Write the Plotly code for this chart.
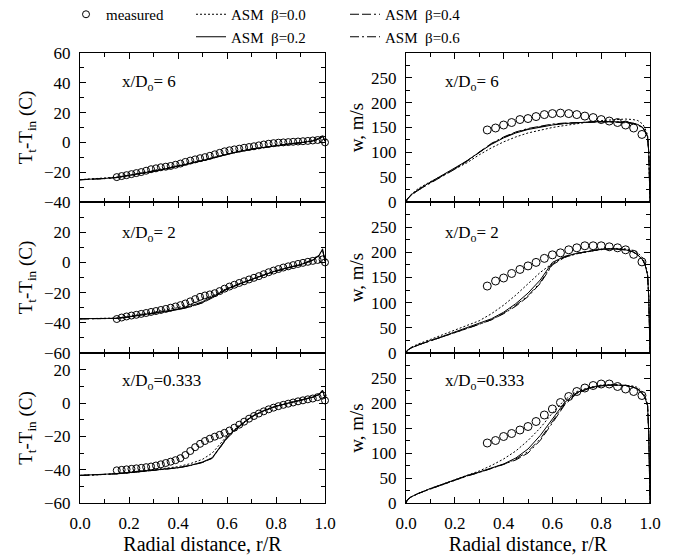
import plotly.graph_objects as go
from plotly.subplots import make_subplots

# ---------------- data ----------------
# Temperature panels: model radial grid
r_t_model = [0, 0.05, 0.1, 0.15, 0.2, 0.25, 0.3, 0.35, 0.4, 0.45, 0.5, 0.54,
             0.6, 0.65, 0.7, 0.75, 0.8, 0.85, 0.9, 0.95, 0.975, 0.99, 1.0]

# x/Do = 6 temperature
t6_b00 = [-25.0, -24.6, -24.0, -23.3, -22.0, -20.5, -19.0, -17.3, -15.6, -13.8, -11.8, -10.2,
          -7.6, -5.9, -4.4, -3.1, -2.0, -1.0, 0.0, 1.2, 2.8, 4.6, 1.0]
t6_b02 = [-25.0, -24.7, -24.2, -23.5, -22.2, -20.8, -19.3, -17.7, -16.0, -14.2, -12.2, -10.5,
          -7.8, -6.0, -4.5, -3.2, -2.1, -1.1, -0.2, 1.0, 2.5, 4.2, 1.0]
t6_b04 = [-25.1, -24.8, -24.3, -23.6, -22.3, -20.9, -19.4, -17.8, -16.1, -14.3, -12.3, -10.6,
          -7.9, -6.1, -4.6, -3.3, -2.2, -1.2, -0.3, 0.9, 2.4, 4.0, 1.0]
t6_b06 = [-25.1, -24.8, -24.3, -23.6, -22.3, -20.9, -19.4, -17.8, -16.1, -14.3, -12.3, -10.6,
          -7.9, -6.1, -4.6, -3.3, -2.2, -1.2, -0.3, 0.9, 2.4, 3.9, 1.0]

# x/Do = 2 temperature
t2_b00 = [-37.3, -37.2, -37.1, -36.9, -35.7, -34.4, -33.0, -31.6, -30.0, -27.8, -24.8, -22.0,
          -17.2, -14.0, -11.0, -8.1, -5.4, -3.2, -1.3, 1.8, 4.8, 9.0, 1.0]
t2_b02 = [-37.3, -37.2, -37.1, -37.0, -36.0, -34.8, -33.5, -32.3, -31.0, -29.0, -26.0, -22.8,
          -17.5, -14.2, -11.2, -8.3, -5.6, -3.4, -1.5, 1.5, 4.5, 8.5, 1.0]
t2_b04 = [-37.4, -37.3, -37.2, -37.1, -36.1, -35.0, -33.8, -32.6, -31.3, -29.5, -26.8, -23.5,
          -17.8, -14.4, -11.3, -8.4, -5.7, -3.5, -1.6, 1.4, 4.4, 8.3, 1.0]
t2_b06 = [-37.4, -37.3, -37.2, -37.1, -36.1, -35.0, -33.8, -32.6, -31.2, -29.4, -26.6, -23.3,
          -17.7, -14.3, -11.3, -8.4, -5.7, -3.5, -1.6, 1.4, 4.4, 8.3, 1.0]

# x/Do = 0.333 temperature
t0_b00 = [-43.4, -43.2, -42.9, -42.3, -41.6, -40.8, -40.0, -39.1, -38.2, -36.4, -33.8, -30.0,
          -19.8, -13.4, -8.0, -4.5, -1.8, 0.0, 1.6, 3.6, 5.4, 7.8, 3.0]
t0_b02 = [-43.4, -43.2, -43.0, -42.4, -41.8, -41.1, -40.4, -39.6, -38.8, -37.4, -35.4, -32.8,
          -20.5, -13.8, -8.2, -4.6, -1.9, -0.1, 1.5, 3.5, 5.2, 7.6, 3.0]
t0_b04 = [-43.5, -43.3, -43.1, -42.5, -41.9, -41.2, -40.5, -39.7, -38.9, -37.6, -35.7, -33.2,
          -21.2, -14.2, -8.4, -4.7, -2.0, -0.2, 1.4, 3.4, 5.0, 7.3, 3.0]
t0_b06 = [-43.5, -43.3, -43.1, -42.5, -41.9, -41.2, -40.5, -39.7, -38.9, -37.5, -35.6, -33.0,
          -21.0, -14.1, -8.3, -4.7, -2.0, -0.2, 1.4, 3.4, 5.0, 7.4, 3.0]

# measured temperature radial positions
r_t_meas = [0.15, 0.17, 0.19, 0.21, 0.23, 0.25, 0.27, 0.29, 0.31, 0.33, 0.35, 0.37, 0.39,
            0.41, 0.43, 0.45, 0.47, 0.49, 0.51, 0.53, 0.55, 0.57, 0.59, 0.61, 0.63, 0.65,
            0.67, 0.69, 0.71, 0.73, 0.75, 0.77, 0.79, 0.81, 0.83, 0.85, 0.87, 0.89, 0.91,
            0.93, 0.95, 0.97, 0.99, 1.0]
t6_meas = [-23.3, -22.6, -22.0, -21.3, -20.6, -19.9, -19.0, -18.0, -17.4, -16.7, -16.3, -15.8,
           -15.0, -14.2, -13.1, -12.2, -11.4, -10.6, -9.9, -9.0, -8.0, -7.0, -6.0, -5.3, -4.7,
           -4.2, -3.6, -3.1, -2.6, -2.0, -1.4, -0.9, -0.5, -0.2, 0.0, 0.2, 0.4, 0.6, 0.8,
           1.0, 1.3, 1.6, 2.0, 0.0]
t2_meas = [-37.5, -36.5, -35.8, -35.2, -34.7, -34.1, -33.5, -32.8, -32.2, -31.5, -30.8, -30.0,
           -29.2, -28.3, -27.2, -25.8, -24.3, -22.8, -21.9, -21.2, -20.4, -19.0, -17.4, -16.0,
           -14.8, -13.6, -12.5, -11.3, -10.2, -9.1, -7.8, -6.5, -5.4, -4.4, -3.4, -2.6, -1.8,
           -1.0, -0.3, 0.4, 1.0, 1.6, 2.0, 0.0]
t0_meas = [-40.4, -40.1, -39.8, -39.5, -39.2, -38.9, -38.5, -38.1, -37.5, -36.8, -36.0, -35.2,
           -34.3, -33.1, -31.2, -28.8, -26.5, -24.5, -22.8, -21.4, -20.2, -19.1, -17.9, -16.5,
           -14.8, -13.0, -11.2, -9.4, -7.8, -6.3, -5.0, -3.8, -2.8, -1.9, -1.1, -0.4, 0.3,
           1.0, 1.6, 2.2, 2.7, 3.5, 4.5, 1.5]

# Velocity panels: model radial grid
r_w_model = [0, 0.005, 0.02, 0.05, 0.1, 0.15, 0.2, 0.25, 0.3, 0.35, 0.4, 0.45, 0.5, 0.55,
             0.6, 0.65, 0.7, 0.75, 0.8, 0.85, 0.9, 0.93, 0.95, 0.97, 0.98, 0.99, 0.995, 1.0]

w6_b00 = [0, 6, 15, 27, 41, 54, 66, 79, 95, 109, 121, 131, 139, 145, 150, 154, 158, 161, 164,
          166, 167, 166, 164, 157, 148, 135, 100, 0]
w6_b02 = [0, 6, 14, 25, 40, 54, 68, 83, 100, 116, 129, 139, 146, 151, 155, 158, 160, 161, 162,
          162, 161, 159, 156, 150, 143, 132, 100, 0]
w6_b04 = [0, 6, 14, 24, 39, 53, 67, 83, 101, 118, 131, 141, 148, 153, 157, 159, 160, 161, 161,
          161, 160, 158, 155, 149, 142, 131, 100, 0]
w6_b06 = [0, 5, 13, 24, 38, 52, 66, 82, 100, 117, 130, 140, 147, 152, 156, 158, 160, 161, 162,
          162, 161, 159, 156, 150, 143, 132, 100, 0]

w2_b00 = [0, 5, 11, 18, 27, 36, 45, 54, 64, 78, 95, 115, 138, 160, 178, 190, 197, 202, 206,
          208, 207, 204, 199, 189, 178, 158, 110, 0]
w2_b02 = [0, 5, 10, 16, 25, 33, 42, 50, 59, 68, 81, 98, 119, 145, 180, 192, 198, 202, 206,
          207, 205, 201, 195, 185, 175, 155, 110, 0]
w2_b04 = [0, 5, 10, 16, 24, 32, 41, 49, 57, 66, 78, 93, 112, 138, 175, 190, 198, 202, 206,
          207, 205, 201, 195, 185, 175, 155, 110, 0]
w2_b06 = [0, 5, 10, 16, 24, 32, 41, 49, 57, 66, 79, 95, 114, 140, 177, 191, 198, 202, 206,
          207, 205, 201, 195, 185, 175, 155, 110, 0]

w0_b00 = [0, 6, 12, 19, 29, 38, 47, 56, 64, 75, 88, 104, 125, 150, 180, 206, 223, 231, 236,
          237, 236, 234, 231, 222, 213, 198, 140, 0]
w0_b02 = [0, 6, 12, 19, 29, 38, 47, 55, 62, 70, 78, 90, 108, 135, 168, 201, 221, 230, 235,
          236, 235, 232, 228, 218, 210, 195, 140, 0]
w0_b04 = [0, 6, 12, 19, 28, 37, 46, 54, 61, 69, 77, 86, 100, 125, 160, 196, 219, 229, 234,
          236, 235, 232, 228, 218, 210, 195, 140, 0]
w0_b06 = [0, 6, 12, 19, 28, 37, 46, 54, 61, 69, 77, 88, 103, 128, 163, 198, 220, 230, 235,
          236, 235, 232, 228, 218, 210, 195, 140, 0]

r_w_meas = [0.333, 0.367, 0.400, 0.433, 0.467, 0.500, 0.533, 0.567, 0.600, 0.633, 0.667,
            0.700, 0.733, 0.767, 0.800, 0.833, 0.867, 0.900, 0.933, 0.967]
w6_meas = [145, 149, 155, 160, 166, 168, 172, 176, 178, 179, 178, 176, 173, 170, 166, 163,
           160, 155, 149, 136]
w2_meas = [133, 143, 149, 158, 166, 173, 180, 188, 195, 199, 205, 209, 213, 213, 213, 211,
           209, 205, 196, 181]
w0_meas = [120, 125, 133, 139, 146, 153, 163, 176, 188, 201, 213, 223, 230, 235, 238, 238,
           233, 228, 223, 215]

labels_rows = ["x/D<sub>o</sub>= 6", "x/D<sub>o</sub>= 2", "x/D<sub>o</sub>=0.333"]
beta_names = ["ASM  \u03b2=0.0", "ASM  \u03b2=0.2", "ASM  \u03b2=0.4", "ASM  \u03b2=0.6"]

# ---------------- styling ----------------
FONT = "Liberation Serif"
dash_styles = ["2px,2px", "solid", "9px,3px,9px,3px,2px,3px", "9px,3px,2px,3px"]
legend_ids = ["legend2", "legend2", "legend3", "legend3"]

fig = make_subplots(rows=3, cols=2)

W, H = 675, 557
OFF = 8  # page body margin offset


def px_x(p):
    return (p - OFF) / W


def px_y(p):
    return 1 - (p - OFF) / H


xl = [px_x(80), px_x(325)]
xr = [px_x(406), px_x(650)]
rows_px = [(53, 202), (202, 353), (353, 503)]

temp_sets = [
    (t6_b00, t6_b02, t6_b04, t6_b06, t6_meas),
    (t2_b00, t2_b02, t2_b04, t2_b06, t2_meas),
    (t0_b00, t0_b02, t0_b04, t0_b06, t0_meas),
]
vel_sets = [
    (w6_b00, w6_b02, w6_b04, w6_b06, w6_meas),
    (w2_b00, w2_b02, w2_b04, w2_b06, w2_meas),
    (w0_b00, w0_b02, w0_b04, w0_b06, w0_meas),
]

for i in range(3):
    row = i + 1
    first = (i == 0)
    ts = temp_sets[i]
    fig.add_trace(go.Scatter(x=r_t_meas, y=ts[4], mode="markers", name="measured",
                             marker=dict(symbol="circle-open", size=7, color="black",
                                         line=dict(width=1, color="black")),
                             cliponaxis=False, showlegend=first, legend="legend"),
                  row=row, col=1)
    for k in range(4):
        fig.add_trace(go.Scatter(x=r_t_model, y=ts[k], mode="lines", name=beta_names[k],
                                 line=dict(color="black", width=1, dash=dash_styles[k]),
                                 showlegend=first, legend=legend_ids[k]),
                      row=row, col=1)
    vs = vel_sets[i]
    fig.add_trace(go.Scatter(x=r_w_meas, y=vs[4], mode="markers", name="measured",
                             marker=dict(symbol="circle-open", size=8, color="black",
                                         line=dict(width=1, color="black")),
                             cliponaxis=False, showlegend=False),
                  row=row, col=2)
    for k in range(4):
        fig.add_trace(go.Scatter(x=r_w_model, y=vs[k], mode="lines", name=beta_names[k],
                                 line=dict(color="black", width=1, dash=dash_styles[k]),
                                 showlegend=False),
                      row=row, col=2)

axis_common = dict(showline=True, linecolor="black", linewidth=1, mirror="ticks",
                   ticks="inside", ticklen=6, tickwidth=1, tickcolor="black",
                   showgrid=False, zeroline=False, automargin=False,
                   tickfont=dict(family=FONT, size=17, color="black"))

temp_ranges = [[-40, 60], [-60, 40], [-60, 30]]
temp_ticks = [[-40, -20, 0, 20, 40, 60], [-60, -40, -20, 0, 20], [-60, -40, -20, 0, 20]]
temp_minor = [[-30, -10, 10, 30, 50], [-50, -30, -10, 10, 30], [-50, -30, -10, 10, 30]]

for i in range(3):
    row = i + 1
    top, bot = rows_px[i]
    ydom = [px_y(bot), px_y(top)]
    bottom_row = (i == 2)
    for col, xd in ((1, xl), (2, xr)):
        xkw = dict(domain=xd, range=[0, 1],
                   tickvals=[0, 0.2, 0.4, 0.6, 0.8, 1.0],
                   ticktext=["0.0", "0.2", "0.4", "0.6", "0.8", "1.0"],
                   showticklabels=bottom_row, ticklabelstandoff=5,
                   minor=dict(tickvals=[0.1, 0.3, 0.5, 0.7, 0.9], ticks="inside",
                              ticklen=4, tickcolor="black"))
        if bottom_row:
            xkw["title"] = dict(text="Radial distance, r/R",
                                font=dict(family=FONT, size=20, color="black"),
                                standoff=2)
        fig.update_xaxes(axis_common, row=row, col=col, **xkw)
    fig.update_yaxes(axis_common, row=row, col=1, domain=ydom, range=temp_ranges[i],
                     tickvals=temp_ticks[i], ticklabelstandoff=5,
                     minor=dict(tickvals=temp_minor[i], ticks="inside", ticklen=4,
                                tickcolor="black"),
                     title=dict(text="T<sub>t</sub>-T<sub>in</sub> (C)",
                                font=dict(family=FONT, size=19, color="black"),
                                standoff=6))
    fig.update_yaxes(axis_common, row=row, col=2, domain=ydom, range=[0, 300],
                     tickvals=[0, 50, 100, 150, 200, 250], ticklabelstandoff=5,
                     minor=dict(tickvals=[25, 75, 125, 175, 225, 275], ticks="inside",
                                ticklen=4, tickcolor="black"),
                     title=dict(text="w, m/s",
                                font=dict(family=FONT, size=19, color="black"),
                                standoff=2))

# panel annotations
ann_y = [0.80, 0.79, 0.81]
for i in range(3):
    xa_l = "x" if i == 0 else "x%d" % (2 * i + 1)
    ya_l = "y" if i == 0 else "y%d" % (2 * i + 1)
    xa_r = "x%d" % (2 * i + 2)
    ya_r = "y%d" % (2 * i + 2)
    for xa, ya, xx in ((xa_l, ya_l, 0.163), (xa_r, ya_r, 0.152)):
        fig.add_annotation(text=labels_rows[i], xref=xa + " domain", yref=ya + " domain",
                           x=xx, y=ann_y[i], xanchor="left", yanchor="middle",
                           showarrow=False, font=dict(family=FONT, size=17, color="black"))

leg_font = dict(family=FONT, size=15, color="black")
leg_y = 1 + 10 / H
fig.update_layout(
    width=W, height=H,
    margin=dict(l=0, r=0, t=0, b=0, autoexpand=False),
    paper_bgcolor="white", plot_bgcolor="white",
    font=dict(family=FONT, color="black"),
    legend=dict(x=58 / W, y=leg_y, xanchor="left", yanchor="top",
                font=leg_font, bgcolor="rgba(0,0,0,0)", itemwidth=30, borderwidth=0),
    legend2=dict(x=183 / W, y=leg_y, xanchor="left", yanchor="top",
                 font=leg_font, bgcolor="rgba(0,0,0,0)", itemwidth=30, borderwidth=0,
                 tracegroupgap=0),
    legend3=dict(x=337 / W, y=leg_y, xanchor="left", yanchor="top",
                 font=leg_font, bgcolor="rgba(0,0,0,0)", itemwidth=30, borderwidth=0,
                 tracegroupgap=0),
)

fig.write_html("out.html")
